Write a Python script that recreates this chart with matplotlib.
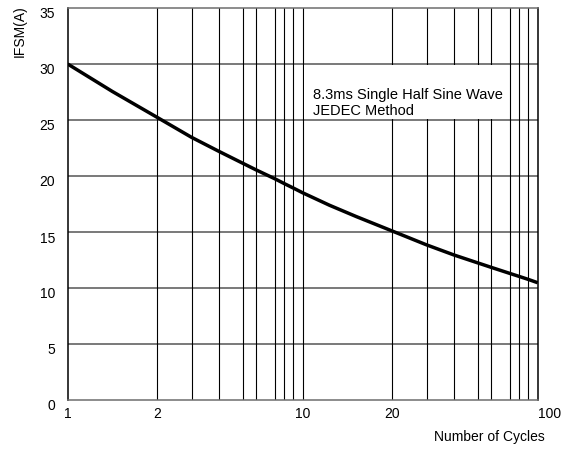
import numpy as np
import matplotlib
matplotlib.use("Agg")
import matplotlib.pyplot as plt
import matplotlib.transforms as mtransforms
from matplotlib.patches import Rectangle

plt.rcParams['font.family'] = ['Liberation Sans', 'DejaVu Sans']

# Curve
cycles = [1, 1.5, 2, 3, 4, 5, 6, 7, 8, 9, 10, 13, 16, 20, 30, 40, 50, 60, 70, 80, 90, 100]
ifsm = [30.0, 27.55, 25.25, 23.45, 22.2, 21.15, 20.55, 19.75, 19.32, 18.93, 18.5,
        17.39, 16.38, 15.1, 13.85, 12.95, 12.25, 11.85, 11.3, 11.03, 10.77, 10.47]

x_ticks = [1, 2, 10, 20, 100]
x_grid = [2, 3, 4, 5, 6, 7, 8, 9, 10, 20, 30, 40, 50, 60, 70, 80, 90]
y_ticks = [0, 5, 10, 15, 20, 25, 30, 35]
y_grid = [5, 10, 15, 20, 25, 30]

note = "8.3ms Single Half Sine Wave\nJEDEC Method"

# the printed log paper is not a true log scale: where each mantissa sits
# inside one decade (fraction of the decade width), measured off the sheet
MANT = np.array([1, 2, 3, 4, 5, 6, 7, 8, 9, 10], dtype=float)
FRAC = np.array([0, 89.2, 123.9, 151.2, 174.8, 188.3, 207.2, 216.6, 225.5, 235.0]) / 235.0


def fwd(x):
    x = np.clip(np.asarray(x, dtype=float), 1e-6, None)
    dec = np.floor(np.log10(x) + 1e-12)
    m = x / 10.0 ** dec
    return dec + np.interp(m, MANT, FRAC)


def inv(y):
    y = np.asarray(y, dtype=float)
    dec = np.floor(y + 1e-12)
    return 10.0 ** dec * np.interp(y - dec, FRAC, MANT)


W, H = 573, 449
fig = plt.figure(figsize=(W / 100, H / 100), dpi=100)
fig.subplots_adjust(left=67.7 / W, right=537.7 / W, top=1 - 8 / H, bottom=1 - 400 / H)
ax = fig.add_subplot(111)

ax.set_xscale('function', functions=(fwd, inv))
ax.set_xlim(1, 100)
ax.set_ylim(0, 35)

grid_gray = '#6e6e6e'
for yv in y_grid:
    ax.axhline(yv, color=grid_gray, lw=1.3, zorder=1)
for xv in x_grid:
    ax.axvline(xv, color='black', lw=0.8, zorder=1)

# white box behind the note
ax.add_patch(Rectangle((10.2, 25.12), 65 - 10.2, 4.76, facecolor='white',
                       edgecolor='none', zorder=2))
ax.text(11.15, 26.5, note, fontsize=10.5, ha='left', va='center',
        linespacing=1.2, zorder=3)

ax.plot(cycles, ifsm, color='black', lw=2.5, zorder=4,
        solid_capstyle='butt', solid_joinstyle='round')

ax.spines['left'].set_color('black')
ax.spines['right'].set_color('black')
ax.spines['top'].set_color(grid_gray)
ax.spines['bottom'].set_color(grid_gray)
for s in ax.spines.values():
    s.set_linewidth(1.1)

ax.set_xticks(x_ticks)
ax.set_xticklabels([str(v) for v in x_ticks])
ax.xaxis.set_minor_locator(matplotlib.ticker.NullLocator())
ax.set_yticks(y_ticks)
ax.set_yticklabels([str(v) for v in y_ticks])
ax.yaxis.set_minor_locator(matplotlib.ticker.NullLocator())
ax.tick_params(axis='both', length=0, labelsize=10)
ax.tick_params(axis='x', pad=5)
ax.tick_params(axis='y', pad=9)

offset = mtransforms.ScaledTranslation(0, -5 / 100, fig.dpi_scale_trans)
for lab in ax.get_yticklabels():
    lab.set_transform(lab.get_transform() + offset)
xl = ax.get_xticklabels()
xl[-1].set_horizontalalignment('left')

fig.text(545 / W, 1 - 437 / H, "Number of Cycles", fontsize=10, ha='right', va='center')
fig.text(20 / W, 1 - 31 / H, "IFSM(A)", fontsize=10, rotation=90, ha='center', va='center')

fig.savefig("out.png", dpi=100)
